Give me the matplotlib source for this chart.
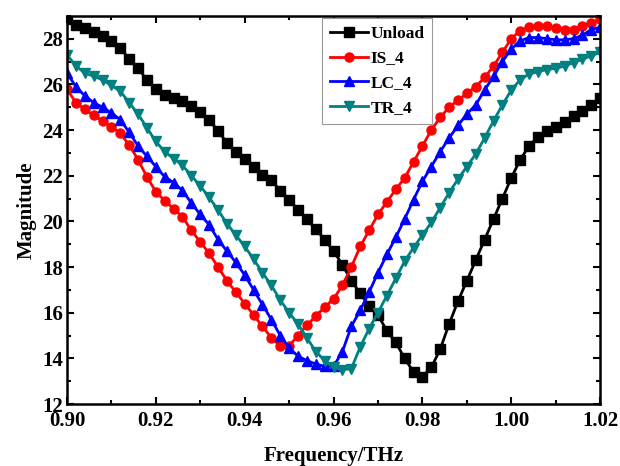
import numpy as np
import matplotlib
matplotlib.use("Agg")
import matplotlib.pyplot as plt
from matplotlib.ticker import MultipleLocator

# frequency sweep, 0.90 - 1.02 THz in 2 GHz steps
freq = np.round(np.arange(0.90, 1.0201, 0.002), 3)

unload = [28.85, 28.6, 28.45, 28.3, 28.1, 27.9, 27.6, 27.1, 26.7, 26.2,
          25.8, 25.55, 25.4, 25.25, 25.05, 24.8, 24.45, 23.95, 23.45, 23.05,
          22.75, 22.4, 22.05, 21.8, 21.35, 20.95, 20.5, 20.1, 19.65, 19.2,
          18.7, 18.1, 17.4, 16.85, 16.3, 15.9, 15.2, 14.7, 14.0, 13.4,
          13.2, 13.6, 14.4, 15.5, 16.5, 17.4, 18.3, 19.2, 20.1, 21.0,
          21.9, 22.7, 23.3, 23.7, 23.95, 24.15, 24.35, 24.6, 24.85, 25.1,
          25.4]

is_4 = [25.8, 25.2, 24.9, 24.65, 24.4, 24.15, 23.85, 23.35, 22.7, 21.95,
        21.3, 20.9, 20.55, 20.2, 19.6, 19.1, 18.6, 18.0, 17.4, 16.9,
        16.4, 15.9, 15.4, 14.9, 14.55, 14.55, 15.0, 15.45, 15.85, 16.25,
        16.6, 17.2, 18.0, 18.9, 19.6, 20.3, 20.85, 21.4, 21.9, 22.6,
        23.3, 24.0, 24.55, 25.0, 25.3, 25.6, 25.9, 26.3, 26.8, 27.4,
        28.0, 28.35, 28.5, 28.55, 28.55, 28.45, 28.4, 28.4, 28.55, 28.7,
        28.85]

lc_4 = [26.5, 25.9, 25.5, 25.2, 25.0, 24.75, 24.45, 23.9, 23.3, 22.85,
        22.4, 21.95, 21.7, 21.35, 20.8, 20.3, 19.85, 19.2, 18.7, 18.2,
        17.65, 17.0, 16.35, 15.7, 15.0, 14.45, 14.1, 13.9, 13.75, 13.65,
        13.65, 14.3, 15.4, 16.1, 16.9, 17.75, 18.55, 19.3, 20.1, 20.95,
        21.75, 22.4, 23.05, 23.65, 24.2, 24.7, 25.1, 25.75, 26.35, 27.0,
        27.55, 27.9, 28.05, 28.05, 28.0, 27.95, 27.95, 28.0, 28.15, 28.4,
        28.5]

tr_4 = [27.3, 26.8, 26.5, 26.35, 26.2, 25.95, 25.7, 25.2, 24.7, 24.1,
        23.5, 23.05, 22.75, 22.45, 22.0, 21.55, 21.05, 20.5, 19.9, 19.4,
        18.9, 18.35, 17.75, 17.2, 16.55, 16.0, 15.5, 14.9, 14.3, 13.9,
        13.6, 13.5, 13.55, 14.5, 15.3, 16.0, 16.75, 17.5, 18.25, 18.85,
        19.4, 19.95, 20.6, 21.25, 21.85, 22.4, 22.95, 23.65, 24.4, 25.1,
        25.75, 26.2, 26.45, 26.55, 26.65, 26.7, 26.8, 26.95, 27.1, 27.25,
        27.4]

plt.rcParams['font.family'] = ['Liberation Serif', 'DejaVu Serif']
plt.rcParams['font.weight'] = 'bold'

fig = plt.figure(figsize=(6.2, 4.66), dpi=100)
ax = fig.add_axes([0.108, 0.133, 0.860, 0.833])

series = [
    (unload, 'Unload', 'black', 's'),
    (is_4, 'IS_4', '#ff0000', 'o'),
    (lc_4, 'LC_4', '#0000ff', '^'),
    (tr_4, 'TR_4', '#008080', 'v'),
]
for vals, name, col, mk in series:
    ax.plot(freq, vals, color=col, marker=mk, markersize=6.5, linewidth=2, label=name)

ax.set_xlim(0.90, 1.02)
ax.set_ylim(12, 29)
ax.xaxis.set_major_locator(MultipleLocator(0.02))
ax.xaxis.set_minor_locator(MultipleLocator(0.01))
ax.yaxis.set_major_locator(MultipleLocator(2))
ax.yaxis.set_minor_locator(MultipleLocator(1))
ax.xaxis.set_major_formatter(plt.FormatStrFormatter('%.2f'))

ax.tick_params(which='both', direction='in', top=True, right=True, width=1.5)
ax.tick_params(which='major', length=5, labelsize=15, pad=3)
ax.tick_params(axis='x', which='major', pad=5)
ax.tick_params(which='minor', length=3)
for sp in ax.spines.values():
    sp.set_linewidth(1.8)

ax.set_xlabel('Frequency/THz', fontsize=15, fontweight='bold', labelpad=11)
ax.set_ylabel('Magnitude', fontsize=15, fontweight='bold', labelpad=4)

leg = ax.legend(loc='upper left', bbox_to_anchor=(0.478, 0.995), fontsize=12.5,
                fancybox=False, framealpha=1, edgecolor='#999999',
                handlelength=2.2, handletextpad=0.15, borderpad=0.45,
                borderaxespad=0, labelspacing=0.5)
leg.get_frame().set_linewidth(0.8)

fig.savefig('out.png', dpi=100)
